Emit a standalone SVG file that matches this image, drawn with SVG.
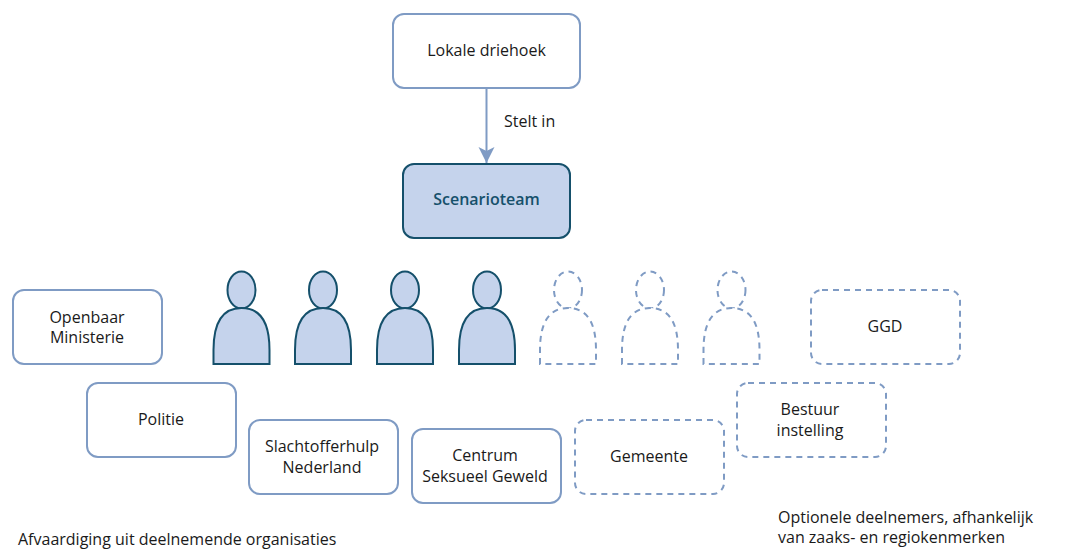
<svg xmlns="http://www.w3.org/2000/svg" xmlns:xlink="http://www.w3.org/1999/xlink" width="1076" height="550" viewBox="0 0 1076 550">
<style>
text{font-family:"Open Sans","Noto Sans",sans-serif;font-size:16px;fill:#1a1a1a}
.c{text-anchor:middle}
.box{fill:#fff;stroke:#7f9bc4;stroke-width:2}
.opt{fill:#fff;stroke:#7f9bc4;stroke-width:2;stroke-dasharray:6 5}
.p{fill:#c5d3ec;stroke:#15506b;stroke-width:2}
.po{fill:#fff;stroke:#7f9bc4;stroke-width:2;stroke-dasharray:6 5}
</style>
<defs>
<marker id="arr" markerUnits="userSpaceOnUse" markerWidth="18" markerHeight="18" refX="16" refY="9" orient="auto"><path d="M0 1L16 9L0 17L4 9Z" fill="#7f9bc4"/></marker>
<g id="person"><ellipse cx="0" cy="0" rx="14" ry="18.5"/><path d="M-28 74V60C-28 31-18 18 0 18C18 18 28 31 28 60V74Z"/></g>
</defs>
<g id="connectors"><path d="M486.500 88V163" fill="none" stroke="#7f9bc4" stroke-width="2" marker-end="url(#arr)"/></g>
<g id="n-lokale"><rect class="box" x="393" y="14" width="187" height="74" rx="11"/><text class="c" x="486.500" y="56">Lokale driehoek</text></g>
<text id="l-stelt" x="504" y="127">Stelt in</text>
<g id="n-scenario"><rect x="403" y="164" width="167" height="74" rx="11" fill="#c5d3ec" stroke="#15506b" stroke-width="2"/><text class="c" x="486.500" y="205" style="fill:#15506b;font-weight:600">Scenarioteam</text></g>
<g id="p1" class="p"><use xlink:href="#person" href="#person" x="241.500" y="290"/></g>
<g id="p2" class="p"><use href="#person" x="323" y="290"/></g>
<g id="p3" class="p"><use href="#person" x="405" y="290"/></g>
<g id="p4" class="p"><use href="#person" x="487" y="290"/></g>
<g id="p5" class="po"><use href="#person" x="568" y="290"/></g>
<g id="p6" class="po"><use href="#person" x="650" y="290"/></g>
<g id="p7" class="po"><use href="#person" x="731.500" y="290"/></g>
<g id="n-om"><rect class="box" x="13" y="290" width="149" height="74" rx="11"/><text class="c" x="87" y="323">Openbaar</text><text class="c" x="87" y="343">Ministerie</text></g>
<g id="n-politie"><rect class="box" x="87" y="383" width="149" height="74" rx="11"/><text class="c" x="161" y="425">Politie</text></g>
<g id="n-shn"><rect class="box" x="249" y="420" width="149" height="74" rx="11"/><text class="c" x="322" y="452">Slachtofferhulp</text><text class="c" x="322" y="473">Nederland</text></g>
<g id="n-csg"><rect class="box" x="412" y="429" width="149" height="74" rx="11"/><text class="c" x="485" y="461">Centrum</text><text class="c" x="485" y="482">Seksueel Geweld</text></g>
<g id="n-gem"><rect class="opt" x="575" y="420" width="149" height="74" rx="11"/><text class="c" x="649" y="462">Gemeente</text></g>
<g id="n-best"><rect class="opt" x="737" y="383" width="149" height="74" rx="11"/><text class="c" x="810" y="415">Bestuur</text><text class="c" x="810" y="436">instelling</text></g>
<g id="n-ggd"><rect class="opt" x="811" y="290" width="149" height="74" rx="11"/><text class="c" x="885" y="332">GGD</text></g>
<text id="t-afv" x="18" y="545">Afvaardiging uit deelnemende organisaties</text>
<text id="t-opt1" x="778" y="523">Optionele deelnemers, afhankelijk</text>
<text id="t-opt2" x="778" y="543">van zaaks- en regiokenmerken</text>
</svg>
